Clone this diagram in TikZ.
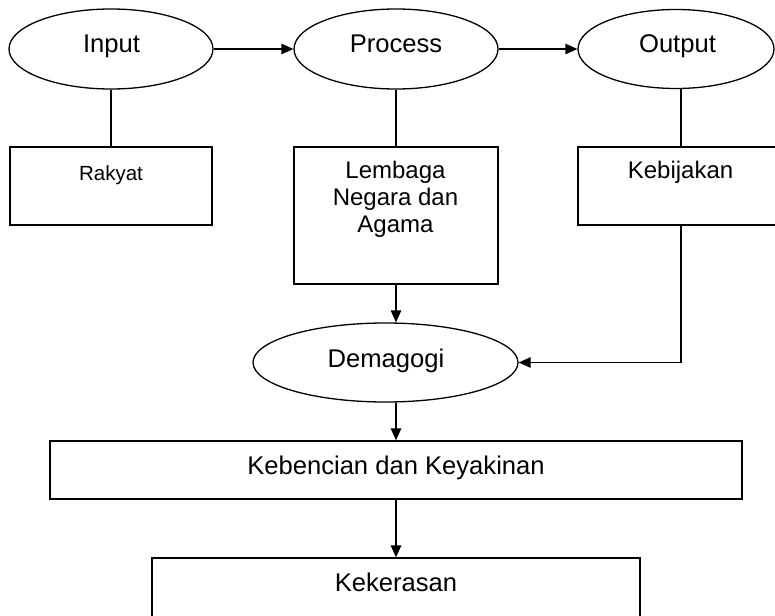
\documentclass[tikz,border=0pt]{standalone}
\usepackage{fontspec}
\setmainfont{Liberation Sans}
\usetikzlibrary{shapes.geometric,arrows.meta}
\tikzset{
  ln/.style={line width=1.3pt, draw=black},
  arr/.style={ln, -{Triangle[length=12pt,width=10.5pt]}},
  ell/.style={ln, ellipse, inner sep=0pt},
  box/.style={ln, rectangle, inner sep=0pt},
  big/.style={inner sep=0pt, anchor=base, font=\fontsize{25.6}{30}\selectfont},
  mid/.style={inner sep=0pt, anchor=base, font=\fontsize{24}{27}\selectfont, align=center},
  sml/.style={inner sep=0pt, anchor=base, font=\fontsize{20.5}{24}\selectfont},
}
\begin{document}
\begin{tikzpicture}[x=1pt,y=-1pt]
\useasboundingbox (0,0) rectangle (775,615);
\clip (0,0) rectangle (775,615);
\fill[white] (0,0) rectangle (775,615);
% ellipses
\node[ell, minimum width=204pt, minimum height=80pt] (In) at (111,49) {};
\node[ell, minimum width=204pt, minimum height=80pt] (Pr) at (396,49) {};
\node[ell, minimum width=196pt, minimum height=79pt] (Ou) at (676,49) {};
\node[ell, minimum width=265pt, minimum height=79pt] (De) at (385.5,362.5) {};
% boxes
\node[box, minimum width=202pt, minimum height=78pt] (Ra) at (111,186) {};
\node[box, minimum width=204pt, minimum height=137pt] (Le) at (396,215.5) {};
\node[box, minimum width=212pt, minimum height=78pt] (Kj) at (684,186) {};
\node[box, minimum width=692pt, minimum height=58pt] (Kb) at (396,470) {};
\node[box, minimum width=488pt, minimum height=72pt] (Kk) at (396,594) {};
% texts
\node[big] (tIn) at (111.5,52.3) {Input};
\node[big] (tPr) at (396,52.3) {Process};
\node[big] (tOu) at (677.5,52.5) {Output};
\node[big] (tDe) at (386,367) {Demagogi};
\node[sml] (tRa) at (111,180) {Rakyat};
\node[mid] (tLe) at (395.5,232) {Lembaga\\Negara dan\\Agama};
\node[mid] (tKj) at (680.5,178) {Kebijakan};
\node[big] (tKb) at (396,474) {Kebencian dan Keyakinan};
\node[big] (tKk) at (396,591.7) {Kekerasan};
% connectors
\coordinate (kx) at (681,0);
\draw[arr] (In.east) -- (Pr.west);
\draw[arr] (Pr.east) -- (Ou.west);
\draw[ln] (In.south) -- (Ra.north);
\draw[ln] (Pr.south) -- (Le.north);
\draw[ln] (Ou.south -| kx) -- (Kj.north -| kx);
\draw[arr] (Le.south) -- (Le.south |- De.north);
\draw[arr] (Kj.south -| kx) -- (kx |- De.east) -- (De.east);
\draw[arr] (Kb.north |- De.south) -- (Kb.north);
\draw[arr] (Kb.south) -- (Kk.north);
\end{tikzpicture}
\end{document}
